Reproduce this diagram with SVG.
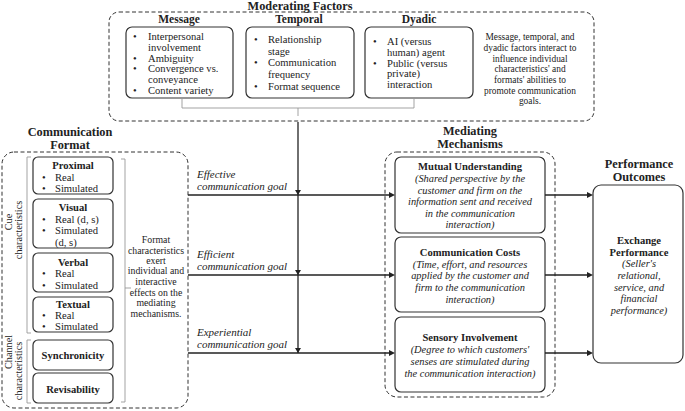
<svg xmlns="http://www.w3.org/2000/svg" width="685" height="411" viewBox="0 0 685 411">
<defs>
<style>
text{font-family:"Liberation Serif","Times New Roman",serif;fill:#222}
.t{font-weight:bold;font-size:12.3px;text-anchor:middle}
.h{font-weight:bold;font-size:11.5px;text-anchor:middle}
.hb{font-weight:bold;font-size:10.6px;text-anchor:middle}
.b{font-size:10.6px}
.n{font-size:9.4px;text-anchor:middle}
.i{font-style:italic;font-size:10.4px;text-anchor:middle}
.g{font-style:italic;font-size:11px}
.dash{fill:none;stroke:#333;stroke-width:1;stroke-dasharray:4 2.5}
.box{fill:#fff;stroke:#333;stroke-width:1.2}
.br{fill:none;stroke:#999;stroke-width:0.9}
.ln{fill:none;stroke:#222;stroke-width:1.3}
.ah{fill:#222}
</style>
</defs>

<g id="moderating-factors">
<text class="t" x="300" y="10">Moderating Factors</text>
<rect class="dash" x="109" y="12" width="485" height="109" rx="10"/>
<path class="br" d="M182,99 V108 H414 V99 M298,108 V116"/>
<text class="n" x="530" y="40">Message, temporal, and</text>
<text class="n" x="530" y="51">dyadic factors interact to</text>
<text class="n" x="530" y="61.5">influence individual</text>
<text class="n" x="530" y="72">characteristics' and</text>
<text class="n" x="530" y="83">formats' abilities to</text>
<text class="n" x="530" y="93.5">promote communication</text>
<text class="n" x="530" y="104">goals.</text>
</g>

<g id="message">
<text class="h" x="179" y="23">Message</text>
<rect class="box" x="126" y="27" width="107" height="71" rx="6"/>
<text class="b"><tspan x="133" y="40">•</tspan><tspan x="148" y="40">Interpersonal</tspan><tspan x="148" y="50.5">involvement</tspan><tspan x="133" y="61.5">•</tspan><tspan x="148" y="61.5">Ambiguity</tspan><tspan x="133" y="72">•</tspan><tspan x="148" y="72">Convergence vs.</tspan><tspan x="148" y="82.5">conveyance</tspan><tspan x="133" y="93.5">•</tspan><tspan x="148" y="93.5">Content variety</tspan></text>
</g>

<g id="temporal">
<text class="h" x="299" y="23">Temporal</text>
<rect class="box" x="246" y="27" width="108" height="71" rx="6"/>
<text class="b"><tspan x="254" y="43">•</tspan><tspan x="268" y="43">Relationship</tspan><tspan x="268" y="54.5">stage</tspan><tspan x="254" y="66">•</tspan><tspan x="268" y="66">Communication</tspan><tspan x="268" y="77.5">frequency</tspan><tspan x="254" y="89.5">•</tspan><tspan x="268" y="89.5">Format sequence</tspan></text>
</g>

<g id="dyadic">
<text class="h" x="419" y="23">Dyadic</text>
<rect class="box" x="365" y="27" width="108" height="71" rx="6"/>
<text class="b"><tspan x="373" y="45">•</tspan><tspan x="387" y="45">AI (versus</tspan><tspan x="387" y="55.5">human) agent</tspan><tspan x="373" y="66.5">•</tspan><tspan x="387" y="66.5">Public (versus</tspan><tspan x="387" y="77">private)</tspan><tspan x="387" y="87.5">interaction</tspan></text>
</g>

<g id="communication-format">
<text class="t" x="70" y="136">Communication</text>
<text class="t" x="70" y="149">Format</text>
<rect class="dash" x="2" y="152" width="186" height="256" rx="12"/>
<path class="br" d="M31,157 H27 V333 H31 M31,340 H27 V403 H31 M121,159 H125 V402 H121 M125,288 H131"/>
<text class="b" style="font-size:10.2px" text-anchor="middle" transform="translate(12,222) rotate(-90)">Cue</text>
<text class="b" style="font-size:10.2px" text-anchor="middle" transform="translate(22,230) rotate(-90)">characteristics</text>
<text class="b" style="font-size:10.2px" text-anchor="middle" transform="translate(12,352) rotate(-90)">Channel</text>
<text class="b" style="font-size:10.2px" text-anchor="middle" transform="translate(22,371) rotate(-90)">characteristics</text>
<text class="n" style="font-size:9.8px" x="156" y="243">Format</text>
<text class="n" style="font-size:9.8px" x="156" y="254">characteristics</text>
<text class="n" style="font-size:9.8px" x="156" y="264">exert</text>
<text class="n" style="font-size:9.8px" x="156" y="274">individual and</text>
<text class="n" style="font-size:9.8px" x="156" y="284.5">interactive</text>
<text class="n" style="font-size:9.8px" x="156" y="296">effects on the</text>
<text class="n" style="font-size:9.8px" x="156" y="306">mediating</text>
<text class="n" style="font-size:9.8px" x="156" y="316.5">mechanisms.</text>
</g>

<g id="proximal">
<rect class="box" x="33" y="157" width="80" height="37" rx="5"/>
<text class="hb" x="73" y="169">Proximal</text>
<text class="b"><tspan x="42" y="181">•</tspan><tspan x="55" y="181">Real</tspan><tspan x="42" y="192">•</tspan><tspan x="55" y="192">Simulated</tspan></text>
</g>
<g id="visual">
<rect class="box" x="33" y="199" width="80" height="49" rx="5"/>
<text class="hb" x="73" y="211">Visual</text>
<text class="b"><tspan x="42" y="223">•</tspan><tspan x="55" y="223">Real (d, s)</tspan><tspan x="42" y="234">•</tspan><tspan x="55" y="234">Simulated</tspan><tspan x="55" y="245.5">(d, s)</tspan></text>
</g>
<g id="verbal">
<rect class="box" x="33" y="253" width="80" height="39" rx="5"/>
<text class="hb" x="73" y="265.5">Verbal</text>
<text class="b"><tspan x="42" y="277">•</tspan><tspan x="55" y="277">Real</tspan><tspan x="42" y="288.5">•</tspan><tspan x="55" y="288.5">Simulated</tspan></text>
</g>
<g id="textual">
<rect class="box" x="33" y="297" width="80" height="35" rx="5"/>
<text class="hb" x="73" y="307.5">Textual</text>
<text class="b"><tspan x="42" y="319">•</tspan><tspan x="55" y="319">Real</tspan><tspan x="42" y="330">•</tspan><tspan x="55" y="330">Simulated</tspan></text>
</g>
<g id="synchronicity">
<rect class="box" x="33" y="340" width="80" height="30" rx="5"/>
<text class="hb" x="73" y="359">Synchronicity</text>
</g>
<g id="revisability">
<rect class="box" x="33" y="373" width="80" height="30" rx="5"/>
<text class="hb" x="73" y="392.5">Revisability</text>
</g>

<g id="mediating-mechanisms">
<text class="t" x="470" y="135">Mediating</text>
<text class="t" x="470" y="148">Mechanisms</text>
<rect class="dash" x="385" y="152" width="170" height="245" rx="12"/>
</g>

<g id="mutual-understanding">
<rect class="box" x="395" y="157" width="150" height="76" rx="6"/>
<text class="hb" x="470" y="169.5">Mutual Understanding</text>
<text class="i" x="470" y="181.5">(Shared perspective by the</text>
<text class="i" x="470" y="193.5">customer and firm on the</text>
<text class="i" x="470" y="205">information sent and received</text>
<text class="i" x="470" y="216.5">in the communication</text>
<text class="i" x="470" y="228">interaction)</text>
</g>

<g id="communication-costs">
<rect class="box" x="395" y="237" width="150" height="75" rx="6"/>
<text class="hb" x="470" y="255.5">Communication Costs</text>
<text class="i" x="470" y="267.5">(Time, effort, and resources</text>
<text class="i" x="470" y="279">applied by the customer and</text>
<text class="i" x="470" y="290.5">firm to the communication</text>
<text class="i" x="470" y="302.5">interaction)</text>
</g>

<g id="sensory-involvement">
<rect class="box" x="395" y="317" width="150" height="75" rx="6"/>
<text class="hb" x="470" y="340.5">Sensory Involvement</text>
<text class="i" x="470" y="352.5">(Degree to which customers'</text>
<text class="i" x="470" y="364.5">senses are stimulated during</text>
<text class="i" x="470" y="376.5">the communication interaction)</text>
</g>

<g id="performance-outcomes">
<text class="t" x="639" y="168">Performance</text>
<text class="t" x="639" y="181">Outcomes</text>
<rect class="box" x="593" y="185" width="90" height="178" rx="8"/>
<text class="hb" x="639" y="243.5">Exchange</text>
<text class="hb" x="639" y="255.5">Performance</text>
<text class="i" x="639" y="267">(Seller's</text>
<text class="i" x="639" y="278.5">relational,</text>
<text class="i" x="639" y="290.5">service, and</text>
<text class="i" x="639" y="302">financial</text>
<text class="i" x="639" y="313.5">performance)</text>
</g>

<g id="connectors">
<line class="ln" x1="298" y1="122" x2="298" y2="353"/>
<line class="ln" x1="188" y1="195" x2="390" y2="195"/>
<line class="ln" x1="188" y1="275" x2="390" y2="275"/>
<line class="ln" x1="188" y1="353" x2="390" y2="353"/>
<line class="ln" x1="545" y1="195" x2="588" y2="195"/>
<line class="ln" x1="545" y1="275" x2="588" y2="275"/>
<line class="ln" x1="545" y1="353" x2="588" y2="353"/>
<polygon class="ah" points="395,195 389,192 389,198"/>
<polygon class="ah" points="395,275 389,272 389,278"/>
<polygon class="ah" points="395,353 389,350 389,356"/>
<polygon class="ah" points="593,195 587,192 587,198"/>
<polygon class="ah" points="593,275 587,272 587,278"/>
<polygon class="ah" points="593,353 587,350 587,356"/>
<polygon class="ah" points="298,195 295,190 301,190"/>
<polygon class="ah" points="298,275 295,270 301,270"/>
<polygon class="ah" points="298,353 295,348 301,348"/>
<text class="g" x="197" y="178">Effective</text>
<text class="g" x="197" y="190">communication goal</text>
<text class="g" x="197" y="258">Efficient</text>
<text class="g" x="197" y="270">communication goal</text>
<text class="g" x="197" y="336">Experiential</text>
<text class="g" x="197" y="348">communication goal</text>
</g>
</svg>
